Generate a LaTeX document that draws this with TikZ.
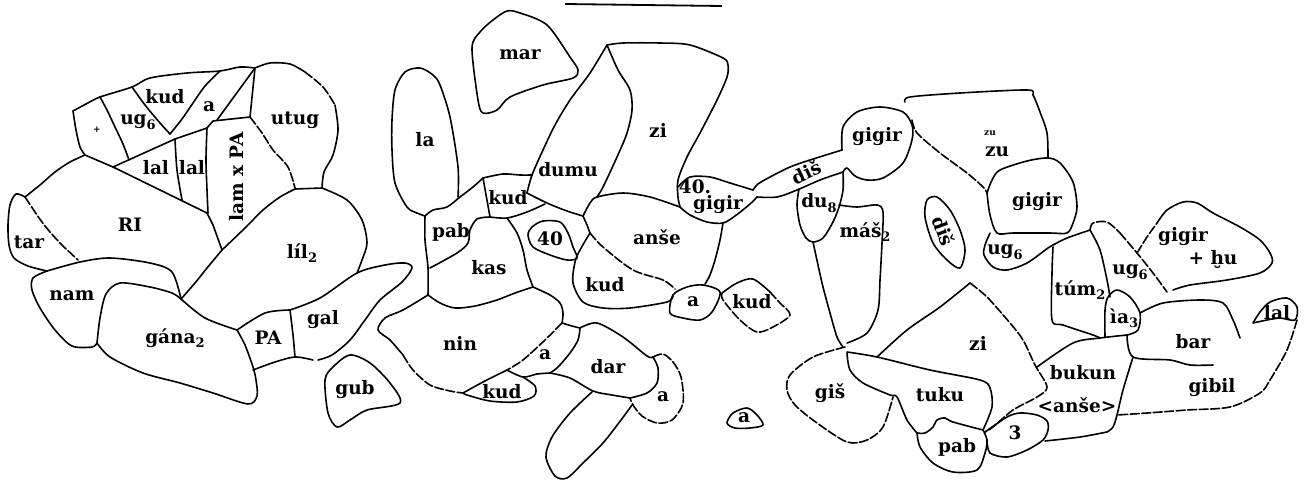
\documentclass[tikz,border=0pt]{standalone}
\usepackage{fontspec}
\setmainfont{DejaVu Serif}
\usepackage{tikz}
\usetikzlibrary{calc}

% subscript index of a sign name
\newcommand{\ix}[1]{\raisebox{-0.45ex}{\fontsize{13}{13}\selectfont #1}}

\begin{document}
\begin{tikzpicture}[
    x=1pt, y=-1pt,
    sign/.style={inner sep=0pt, font=\bfseries\fontsize{18.5}{19}\selectfont},
    tiny/.style={inner sep=0pt, font=\bfseries\fontsize{9}{9}\selectfont},
    ln/.style={line width=1.6pt, line join=round, line cap=round},
    brk/.style={ln, dash pattern=on 9pt off 2.5pt}
]
\useasboundingbox (0,0) rectangle (1308,480);

% rule at the top
\draw[line width=1.8pt] (565,4) -- (722,6);

% ---------- left group ----------
% tar
\draw[ln] plot[smooth] coordinates {(25,197) (16,194) (10,205) (8,225) (9,245) (14,258) (28,266) (47,271)};
\draw[brk] plot[smooth] coordinates {(25,197) (35,212) (45,226) (60,243) (78,260)};
% RI
\draw[ln] plot[smooth] coordinates {(25,197) (40,185) (55,172) (70,162) (85,155)};
\draw[ln] (85,155) -- (113,167) -- (207,213) -- (213,225) -- (222,250);
\draw[ln] plot[smooth] coordinates {(47,271) (80,262) (110,258) (150,263) (172,272) (181,299)};
% nam, gana
\draw[ln] plot[smooth] coordinates {(47,271) (33,278) (32,290) (40,308) (55,330) (72,346) (92,347) (97,343)};
\draw[ln] plot[smooth] coordinates {(97,343) (100,318) (106,294) (120,283) (150,287) (172,293) (181,299)};
\draw[ln] plot[smooth] coordinates {(97,343) (110,357) (143,373) (180,383) (213,393) (248,404) (257,396) (256,380) (253,367) (245,345) (237,330)};
\draw[ln] plot[smooth] coordinates {(181,299) (205,318) (237,330)};
% PA, gal
\draw[ln] plot[smooth] coordinates {(237,330) (265,313) (290,310)};
\draw[ln] plot[smooth] coordinates {(290,310) (293,335) (295,357)};
\draw[ln] plot[smooth] coordinates {(253,370) (275,362) (295,357) (313,360)};
\draw[ln] plot[smooth] coordinates {(290,310) (320,298) (357,273) (385,265) (405,263) (412,268) (402,282) (380,300) (365,320) (350,340) (332,355) (318,360)};
% lil2
\draw[ln] plot[smooth] coordinates {(181,299) (195,283) (207,268) (222,250)};
\draw[ln] plot[smooth] coordinates {(222,250) (245,228) (263,210) (280,197) (295,189)};
\draw[ln] (295,189) -- (322,188);
\draw[ln] plot[smooth] coordinates {(322,188) (347,200) (362,220) (367,243) (362,260) (357,273)};
% utug
\draw[ln] plot[smooth] coordinates {(255,68) (270,63) (290,64) (305,72)};
\draw[brk] plot[smooth] coordinates {(305,72) (323,87) (335,105)};
\draw[ln] plot[smooth] coordinates {(335,105) (338,130) (333,155) (324,172) (322,188)};
\draw[ln] (255,68) -- (250,117);
\draw[brk] plot[smooth] coordinates {(250,117) (262,133) (273,150) (288,167) (295,188)};
% lam x PA
\draw[ln] plot[smooth] coordinates {(207,128) (206,160) (207,190) (208,213)};
\draw[ln] (207,128) -- (213,121) -- (250,117);
\draw[ln] (217,120) -- (255,68);
% +, ug6, kud, a, lal
\draw[ln] plot[smooth] coordinates {(73,111) (86,104) (100,97) (132,87) (150,78) (187,73) (220,71) (240,67) (255,68)};
\draw[ln] plot[smooth] coordinates {(73,111) (76,130) (80,147) (85,155)};
\draw[ln] plot[smooth] coordinates {(100,97) (107,110) (115,127) (123,144) (129,160)};
\draw[ln] plot[smooth] coordinates {(132,87) (145,105) (160,123) (170,134)};
\draw[ln] plot[smooth] coordinates {(220,71) (205,86) (193,103) (182,119) (170,134)};
\draw[ln] (113,167) -- (175,139) -- (207,128);
\draw[ln] plot[smooth] coordinates {(175,139) (177,170) (182,200)};
% gub
\draw[ln] plot[smooth cycle] coordinates {(325,380) (333,367) (350,355) (370,363) (390,383) (400,403) (367,410) (350,420) (337,427) (328,413)};

% ---------- middle group ----------
% mar
\draw[ln] plot[smooth cycle] coordinates {(472,48) (480,32) (493,20) (507,11) (520,13) (547,25) (570,57) (578,70) (573,78) (543,85) (510,97) (497,110) (483,113) (478,100)};
% la
\draw[ln] plot[smooth] coordinates {(458,197) (458,167) (450,117) (440,85) (433,75) (420,68) (405,72) (395,90) (392,120) (392,150) (395,183) (407,207) (417,213) (425,216)};
% pab, kud
\draw[ln] plot[smooth] coordinates {(425,216) (433,210) (447,207) (460,197) (473,187) (483,178)};
\draw[ln] plot[smooth] coordinates {(483,178) (503,174) (520,175) (532,175)};
\draw[ln] plot[smooth] coordinates {(425,216) (425,240) (428,268) (428,295)};
\draw[ln] plot[smooth] coordinates {(490,217) (477,219) (470,230) (468,243) (457,253) (430,268)};
\draw[ln] (483,178) -- (490,217);
\draw[ln] plot[smooth] coordinates {(490,217) (507,218) (527,212) (545,204)};
\draw[ln] plot[smooth] coordinates {(527,193) (547,203) (567,211) (583,216)};
% kas
\draw[ln] plot[smooth] coordinates {(507,218) (517,233) (523,250) (527,270) (533,287)};
\draw[ln] plot[smooth] coordinates {(428,295) (440,303) (455,308) (475,306) (497,300) (515,293) (533,287)};
% nin
\draw[ln] plot[smooth] coordinates {(428,295) (403,310) (385,318) (378,330) (390,340) (403,355)};
\draw[brk] plot[smooth] coordinates {(403,355) (413,370) (430,385) (450,391) (463,393)};
\draw[ln] plot[smooth] coordinates {(533,287) (550,295) (560,303) (563,313) (562,323)};
% a and small kud
\draw[brk] plot[smooth] coordinates {(562,323) (545,340) (523,360) (507,370)};
\draw[ln] plot[smooth] coordinates {(562,323) (572,326) (580,328)};
\draw[ln] plot[smooth] coordinates {(580,328) (578,340) (570,353) (558,367) (550,373)};
\draw[ln] plot[smooth] coordinates {(463,393) (483,382) (507,370)};
\draw[ln] plot[smooth] coordinates {(507,370) (523,377) (537,374) (550,373)};
\draw[ln] plot[smooth] coordinates {(523,377) (535,386) (534,396) (517,402) (490,401) (467,395) (463,393)};
% dar, a, oval
\draw[ln] plot[smooth] coordinates {(580,328) (597,323) (623,337) (647,356) (653,357)};
\draw[ln] plot[smooth] coordinates {(653,357) (658,368) (657,383) (647,393) (630,398)};
\draw[ln] plot[smooth] coordinates {(550,373) (570,378) (593,391) (612,395) (630,398)};
\draw[brk] plot[smooth] coordinates {(653,357) (663,354) (673,362) (681,377) (683,403) (672,420) (657,423) (642,416) (633,405) (630,398)};
\draw[ln] plot[smooth] coordinates {(592,392) (570,413) (552,437) (546,457) (555,476) (567,478) (583,463) (603,443) (621,420) (632,405)};
\draw[ln] plot[smooth cycle] coordinates {(727,423) (733,413) (747,408) (757,415) (763,425) (750,428) (735,428)};
% dumu, zi
\draw[ln] plot[smooth] coordinates {(607,45) (590,73) (570,100) (555,125) (543,150) (532,175) (527,193)};
\draw[ln] plot[smooth] coordinates {(607,45) (623,43) (660,43) (690,45) (723,58) (728,65) (727,77) (717,100) (700,133) (687,157) (678,180) (678,197) (680,207)};
\draw[ln] plot[smooth] coordinates {(607,45) (618,70) (630,90) (632,110) (627,133) (617,157) (603,187) (597,197)};
\draw[ln] plot[smooth] coordinates {(583,216) (590,203) (597,197) (623,193) (650,197) (680,207)};
% 40 gigir, dis
\draw[ln] plot[smooth] coordinates {(678,187) (690,177) (710,177) (730,183) (753,190)};
\draw[ln] plot[smooth] coordinates {(680,207) (690,215) (707,222) (723,223) (735,216) (750,204) (757,197)};
\draw[ln] plot[smooth] coordinates {(753,190) (758,184) (770,177) (790,167) (810,160) (842,150)};
\draw[ln] plot[smooth] coordinates {(757,197) (777,197) (797,190) (820,180) (843,172)};
% anse, lower kud, 40
\draw[ln] plot[smooth] coordinates {(723,223) (720,240) (715,260) (710,275) (705,284)};
\draw[ln] plot[smooth] coordinates {(583,216) (587,225) (590,233)};
\draw[brk] plot[smooth] coordinates {(590,233) (603,247) (633,270) (663,280) (675,289)};
\draw[ln] plot[smooth] coordinates {(590,233) (580,250) (575,262) (573,283) (583,302) (603,308) (630,308) (667,302) (673,296)};
\draw[ln] plot[smooth cycle] coordinates {(532,227) (543,221) (560,222) (568,233) (573,247) (577,258) (567,260) (550,255) (533,247) (528,235)};
% a and kud (right)
\draw[ln] plot[smooth cycle] coordinates {(670,313) (673,295) (687,287) (703,285) (720,292) (712,312) (700,320) (683,318)};
\draw[ln] plot[smooth] coordinates {(722,293) (737,283) (753,279) (770,292)};
\draw[brk] plot[smooth] coordinates {(770,292) (780,303) (790,315) (773,327) (757,332) (740,320) (723,300) (722,293)};

% ---------- right group ----------
% gigir, du8, mas2
\draw[ln] plot[smooth] coordinates {(842,150) (843,127) (857,112) (880,107) (903,112) (912,125) (912,140) (903,163) (883,178) (867,180) (855,176) (847,168) (843,172)};
\draw[ln] plot[smooth] coordinates {(799,189) (797,205) (800,225) (806,238) (813,242) (823,238) (833,222) (839,207) (843,190) (843,172)};
\draw[ln] plot[smooth] coordinates {(839,205) (857,207) (877,205) (883,212) (882,243) (880,280) (878,310) (867,333) (847,343)};
\draw[ln] plot[smooth] coordinates {(813,242) (818,265) (823,287) (830,313) (837,337) (843,347)};
\draw[ln] plot[smooth cycle] coordinates {(927,200) (937,197) (950,210) (960,230) (965,250) (960,268) (947,260) (933,243) (925,217)};
% zu, gigir
\draw[ln] plot[smooth] coordinates {(905,102) (910,97) (960,93) (1027,90) (1033,95) (1040,112) (1047,133) (1048,158)};
\draw[brk] plot[smooth] coordinates {(912,120) (917,133) (940,153) (967,173) (983,187) (987,193)};
\draw[ln] plot[smooth] coordinates {(987,193) (992,180) (1000,170) (1027,161) (1048,158) (1060,163) (1073,182) (1077,207) (1073,223) (1067,233) (1050,233) (1013,233) (997,233) (990,215) (987,193)};
% ug6
\draw[ln] plot[smooth] coordinates {(990,233) (985,245) (984,255) (993,267) (1007,270) (1027,263) (1048,248) (1055,244)};
% tum2, ug6, gigir + hu
\draw[ln] plot[smooth] coordinates {(1055,244) (1067,238) (1090,230)};
\draw[ln] plot[smooth] coordinates {(1053,247) (1052,273) (1052,320) (1063,325) (1093,335) (1100,338)};
\draw[ln] plot[smooth] coordinates {(1090,230) (1100,250) (1107,280) (1110,297)};
\draw[brk] plot[smooth] coordinates {(1090,230) (1093,223) (1107,222) (1120,233)};
\draw[brk] plot[smooth] coordinates {(1120,233) (1137,253) (1153,273) (1167,292)};
\draw[brk] plot[smooth] coordinates {(1137,253) (1147,237) (1157,223)};
\draw[ln] plot[smooth] coordinates {(1157,223) (1167,210) (1183,202) (1197,203) (1213,213) (1240,227) (1260,240) (1270,253) (1272,263) (1260,273) (1227,280) (1190,285) (1173,290)};
% ia3, bar, lal, gibil
\draw[ln] plot[smooth] coordinates {(1105,337) (1105,310) (1108,297) (1117,290) (1130,297) (1140,313) (1138,330) (1127,335)};
\draw[ln] plot[smooth] coordinates {(1140,313) (1163,303) (1200,300) (1223,303) (1233,320) (1240,338)};
\draw[ln] plot[smooth] coordinates {(1127,335) (1133,357) (1170,360) (1190,365) (1213,365)};
\draw[ln] plot[smooth] coordinates {(1253,323) (1260,312) (1270,302) (1287,298) (1297,307) (1295,320) (1280,318) (1267,320) (1253,323)};
\draw[brk] plot[smooth] coordinates {(1297,320) (1287,350) (1270,380) (1260,393) (1230,407) (1187,410) (1147,413) (1117,415)};
% bukun
\draw[ln] plot[smooth] coordinates {(1037,367) (1073,343) (1100,338) (1127,335)};
\draw[ln] plot[smooth] coordinates {(1133,357) (1123,390) (1117,415) (1113,427) (1107,432)};
\draw[ln] plot[smooth] coordinates {(1107,432) (1080,437) (1045,441)};
% zi
\draw[brk] plot[smooth] coordinates {(970,283) (987,297) (1010,323) (1023,340) (1035,365) (1047,387) (1037,397) (1013,410) (993,427) (985,432)};
\draw[ln] plot[smooth] coordinates {(970,283) (940,307) (907,330) (877,357)};
% gis, tuku, pab, 3
\draw[ln] plot[smooth] coordinates {(847,352) (877,357) (930,370) (980,380) (990,388) (992,407) (983,430)};
\draw[brk] plot[smooth] coordinates {(845,347) (813,357) (790,375) (787,390) (795,405) (817,423) (847,442) (867,440) (883,427) (893,397)};
\draw[ln] plot[smooth] coordinates {(847,353) (850,370) (863,383) (890,395) (897,397) (907,420) (917,433)};
\draw[ln] plot[smooth] coordinates {(917,433) (920,447) (933,463) (953,472) (977,470) (985,453) (987,440) (983,430)};
\draw[ln] plot[smooth] coordinates {(917,433) (925,433) (933,427) (937,420) (945,418) (953,422) (983,430)};
\draw[ln] plot[smooth] coordinates {(985,432) (1007,417) (1020,413) (1037,415) (1047,421) (1048,430) (1043,440) (1027,450) (1007,457) (990,453) (987,440)};

% ---------- sign names ----------
\node[tiny] (plus) at (97,130) {+};
\node[sign] (ugA) at (138,122) {ug\ix{6}};
\node[sign] (kudA) at (165,97) {kud};
\node[sign] (aA) at (209,107) {a};
\node[sign] (utug) at (295,120) {utug};
\node[sign] (lalA) at (156,168) {lal};
\node[sign] (lalB) at (192,168) {lal};
\node[sign, rotate=90] (lam) at (237,177) {lam x PA};
\node[sign] (ri) at (130,225) {RI};
\node[sign] (tar) at (29,242) {tar};
\node[sign] (lil) at (302,253) {líl\ix{2}};
\node[sign] (nam) at (72,296) {nam};
\node[sign] (gana) at (175,338) {gána\ix{2}};
\node[sign] (pa) at (268,338) {PA};
\node[sign] (gal) at (323,320) {gal};
\node[sign] (gub) at (355,390) {gub};
\node[sign] (mar) at (520,55) {mar};
\node[sign] (la) at (425,140) {la};
\node[sign] (pabA) at (451,232) {pab};
\node[sign] (kudB) at (508,198) {kud};
\node[sign] (dumu) at (568,170) {dumu};
\node[sign] (ziA) at (658,130) {zi};
\node[sign] (forty) at (550,239) {40};
\node[sign] (anse) at (657,237) {anše};
\node[sign] (kas) at (489,268) {kas};
\node[sign] (kudC) at (605,285) {kud};
\node[sign] (aB) at (693,302) {a};
\node[sign] (kudD) at (752,302) {kud};
\node[sign] (nin) at (460,343) {nin};
\node[sign] (aC) at (545,355) {a};
\node[sign] (kudE) at (502,392) {kud};
\node[sign] (dar) at (608,367) {dar};
\node[sign] (aD) at (663,397) {a};
\node[sign] (aE) at (744,418) {a};
\node[sign] (fortyB) at (695,187) {40.};
\node[sign] (gigirA) at (718,205) {gigir};
\node[sign, rotate=25] (disA) at (806,172) {diš};
\node[sign] (gigirB) at (877,137) {gigir};
\node[sign] (du) at (819,203) {du\ix{8}};
\node[sign] (mas) at (865,232) {máš\ix{2}};
\node[sign, rotate=-70] (disB) at (944,231) {diš};
\node[tiny] (zuA) at (990,133) {zu};
\node[sign] (zuB) at (997,152) {zu};
\node[sign] (gigirC) at (1037,202) {gigir};
\node[sign] (ugB) at (1005,252) {ug\ix{6}};
\node[sign] (gigirD) at (1183,237) {gigir};
\node[sign] (hu) at (1213,260) {+ ḫu};
\node[sign] (ugC) at (1130,272) {ug\ix{6}};
\node[sign] (tum) at (1080,290) {túm\ix{2}};
\node[sign] (ia) at (1124,318) {ìa\ix{3}};
\node[sign] (bar) at (1193,342) {bar};
\node[sign] (lalC) at (1277,313) {lal};
\node[sign] (ziB) at (978,343) {zi};
\node[sign] (gis) at (830,393) {giš};
\node[sign] (tuku) at (940,395) {tuku};
\node[sign] (bukun) at (1083,373) {bukun};
\node[sign] (anseB) at (1077,405) {<anše>};
\node[sign] (gibil) at (1212,388) {gibil};
\node[sign] (pabB) at (957,447) {pab};
\node[sign] (three) at (1015,433) {3};

\end{tikzpicture}
\end{document}
